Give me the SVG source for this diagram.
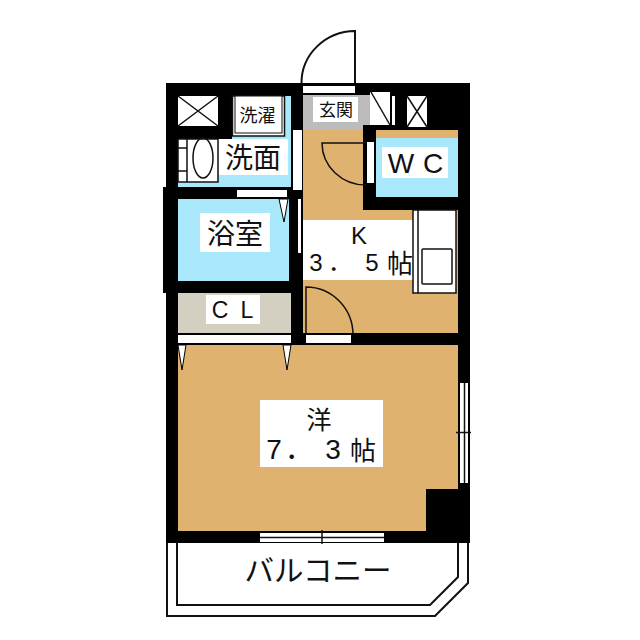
<svg xmlns="http://www.w3.org/2000/svg" width="640" height="640" viewBox="0 0 640 640">
<style>
.t{font-family:"Noto Sans CJK JP","Liberation Sans",sans-serif;fill:#111;text-anchor:middle}
.l{font-family:"Liberation Sans","Noto Sans CJK JP",sans-serif;fill:#111;text-anchor:middle}
.ln{fill:none;stroke:#111;stroke-width:1.5}
.bl{fill:none;stroke:#111;stroke-width:2}
.w{fill:#fff}.k{fill:#000}.b{fill:#a9e8fb}.o{fill:#dfb26f}
.tr{fill:#fff;stroke:#000;stroke-width:1}
</style>
<rect width="640" height="640" fill="#fff"/>
<g id="walls">
<rect class="k" x="166" y="83" width="304" height="460"/>
<rect class="k" x="163" y="187" width="10" height="106"/>
<rect class="w" x="293" y="130" width="9" height="60"/>
</g>
<g id="entrance">
<rect x="303" y="95" width="67" height="35" fill="#bcbcbc"/>
<rect class="k" x="363" y="125" width="10" height="10"/>
<rect class="w" x="303" y="86" width="52" height="7"/>
<rect class="w" x="313" y="97" width="45" height="25"/>
<text class="t" x="336" y="116" font-size="17">玄関</text>
<path class="bl" d="M355 83V31A54 52 0 0 0 301.500 83"/>
</g>
<g id="closet-top">
<rect class="w" x="370" y="92" width="20" height="33"/>
<path class="ln" d="M371 92L390 125"/>
<rect class="w" x="392" y="96" width="3" height="29"/>
<rect class="w" x="407" y="96" width="20" height="31"/>
<path class="ln" d="M407 96L427 127M427 96L407 127"/>
</g>
<g id="washroom">
<rect class="b" x="178" y="96" width="113" height="91"/>
<rect class="k" x="178" y="126" width="54" height="13"/>
<rect class="k" x="218" y="96" width="14" height="43"/>
<rect class="w" x="178" y="96" width="40" height="30"/>
<path class="ln" d="M178 96L218 126M218 96L178 126"/>
<rect class="w" x="232.500" y="96" width="52" height="40" stroke="#111" stroke-width="1.500"/>
<rect class="w" x="235" y="96" width="47" height="37" stroke="#111" stroke-width="1"/>
<text class="t" x="257.500" y="122" font-size="18">洗濯</text>
<rect class="w" x="218" y="139" width="70" height="36"/>
<rect class="w" x="178" y="139" width="40" height="43" stroke="#111" stroke-width="1.500"/>
<path class="ln" d="M187 139V182M178 148H187M178 171H187"/>
<ellipse class="ln" cx="203" cy="158" rx="10" ry="20"/>
<text class="t" x="253" y="168" font-size="28">洗面</text>
<rect class="w" x="237" y="190" width="50" height="7"/>
</g>
<g id="bath">
<rect class="b" x="178" y="199" width="111" height="82"/>
<rect class="w" x="200" y="213" width="70" height="39"/>
<text class="t" x="235" y="244" font-size="28">浴室</text>
<path class="tr" d="M279 199H288L284 222Z"/>
</g>
<g id="closet">
<rect x="178" y="293" width="113" height="40" fill="#d3cfc1"/>
<rect class="w" x="206" y="295" width="54" height="29"/>
<text class="l" x="220" y="318" font-size="23">C</text>
<text class="l" x="247" y="318" font-size="23">L</text>
<rect class="w" x="178" y="335" width="113" height="8"/>
</g>
<g id="kitchen">
<rect class="o" x="303" y="130" width="155" height="203"/>
<rect class="k" x="363" y="125" width="13" height="85"/>
<rect class="k" x="363" y="197" width="107" height="13"/>
<rect class="k" x="295" y="253" width="8" height="92"/>
<rect class="w" x="298" y="199" width="3" height="54"/>
<rect class="k" x="301" y="199" width="2" height="54"/>
<rect class="w" x="367" y="142" width="7" height="41"/>
<path class="ln" d="M366 143H322A44 42 0 0 0 366 185"/>
<rect class="w" x="303" y="220" width="110" height="60"/>
<text class="l" x="359" y="244" font-size="24">K</text>
<text class="l" x="316 340 372" y="271" font-size="24">3．5<tspan x="400" font-size="26" y="273">帖</tspan></text>
<rect class="w" x="413" y="210" width="43" height="83" stroke="#111" stroke-width="1.500"/>
<path class="ln" d="M418 210V293"/>
<rect class="ln" x="422" y="249" width="30" height="35" rx="1"/>
<path class="ln" d="M306 335V287A47 48 0 0 1 353 335"/>
<rect class="k" x="295" y="333" width="175" height="12"/>
<rect class="w" x="306" y="335" width="45" height="8"/>
</g>
<g id="wc">
<rect class="b" x="376" y="138" width="82" height="59"/>
<rect class="w" x="382" y="147" width="66" height="31"/>
<text class="l" x="401" y="173" font-size="28">W</text>
<text class="l" x="433" y="173" font-size="28">C</text>
</g>
<g id="room">
<rect class="o" x="178" y="345" width="280" height="186"/>
<rect class="k" x="426" y="489" width="44" height="54"/>
<path class="tr" d="M178 345H186L182 370Z"/>
<path class="tr" d="M283 345H291L287 370Z"/>
<rect class="w" x="260" y="400" width="123" height="67"/>
<text class="t" x="319" y="429" font-size="25">洋</text>
<text class="l" x="274 299 333" y="459" font-size="28">7．3<tspan x="363" font-size="26" y="460">帖</tspan></text>
<rect class="w" x="460" y="383" width="8" height="100"/>
<path d="M464.500 383V483" stroke="#111" stroke-width="1.500"/>
<path d="M456 432.500H471" stroke="#111" stroke-width="1.500"/>
<rect class="w" x="260" y="533" width="124" height="9"/>
<path d="M260 537.500H384" stroke="#111" stroke-width="1.500"/>
<path d="M322 530V544" stroke="#111" stroke-width="1.500"/>
</g>
<g id="balcony">
<path class="bl" d="M167 543V616H435L468 583V543"/>
<path class="bl" d="M177 543V605H430L458 577V543"/>
<text class="t" x="318" y="581" font-size="29.500">バルコニー</text>
</g>
</svg>
